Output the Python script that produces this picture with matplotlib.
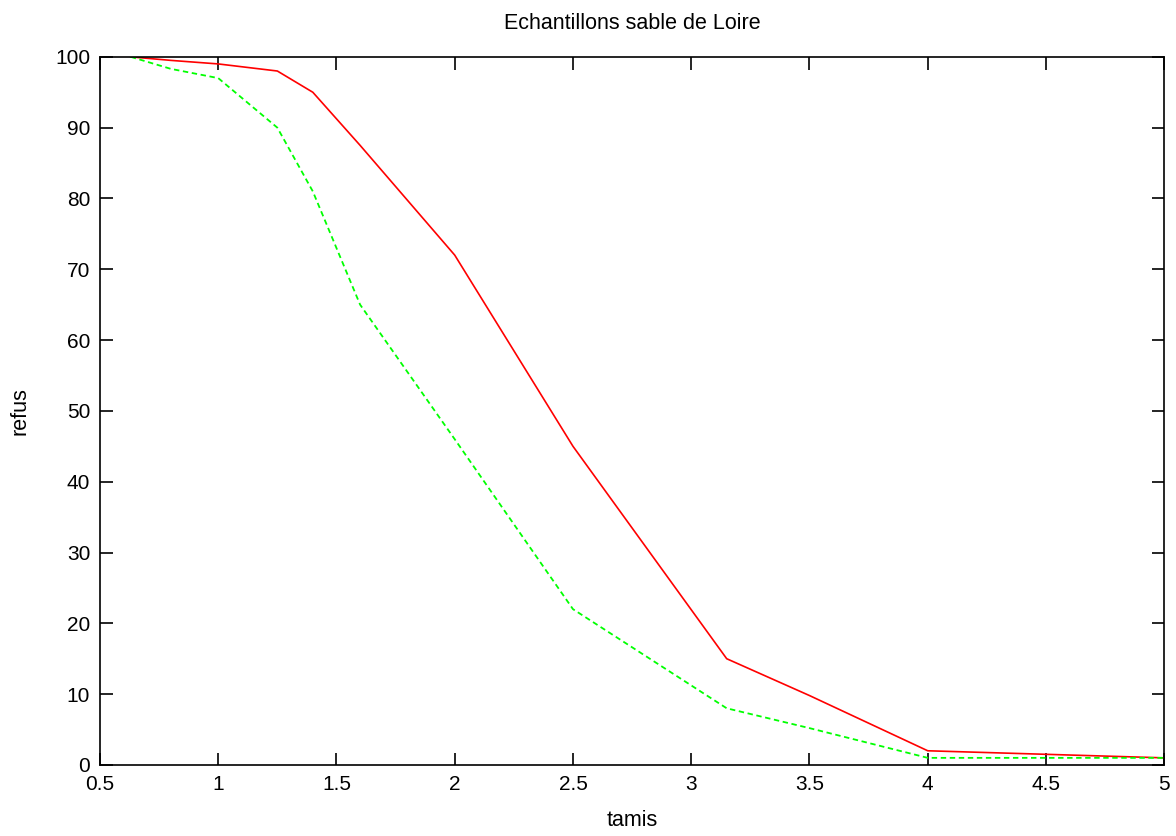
import matplotlib
matplotlib.use("Agg")
import matplotlib.pyplot as plt

plt.rcParams['font.family'] = ['Liberation Sans', 'DejaVu Sans']

# tamis (mm) et refus (%)
tamis_rouge = [0.63, 0.8, 1.0, 1.25, 1.4, 1.6, 2.0, 2.5, 3.15, 3.5, 4.0, 5.0]
refus_rouge = [100, 99.5, 99, 98, 95, 87.5, 72, 45, 15, 9.8, 2, 1]

tamis_vert = [0.63, 0.8, 1.0, 1.25, 1.4, 1.6, 2.0, 2.5, 3.15, 3.5, 4.0, 5.0]
refus_vert = [100, 98.3, 97, 90, 81, 65, 46, 22, 8, 5.2, 1, 1]

fig = plt.figure(figsize=(11.76, 8.36), dpi=100)
ax = fig.add_axes([0.085, 0.085, 0.905, 0.847])

ax.plot(tamis_rouge, refus_rouge, color='#ff0000', linewidth=1.2)
ax.plot(tamis_vert, refus_vert, color='#00ff00', linewidth=1.3, linestyle=(0, (3, 2)))

ax.set_xlim(0.5, 5)
ax.set_ylim(0, 100)
ax.set_xticks([0.5, 1, 1.5, 2, 2.5, 3, 3.5, 4, 4.5, 5])
ax.set_xticklabels(['0.5', '1', '1.5', '2', '2.5', '3', '3.5', '4', '4.5', '5'])
ax.set_yticks(range(0, 101, 10))
ax.tick_params(direction='in', length=9, width=1.2, top=True, right=True,
               labelsize=15, pad=7)
for s in ax.spines.values():
    s.set_linewidth(1.2)

ax.set_title('Echantillons sable de Loire', fontsize=15.5, pad=20)
ax.set_xlabel('tamis', fontsize=15.5, labelpad=12)
ax.set_ylabel('refus', fontsize=15.5, labelpad=18)

fig.savefig('out.png', dpi=100)
